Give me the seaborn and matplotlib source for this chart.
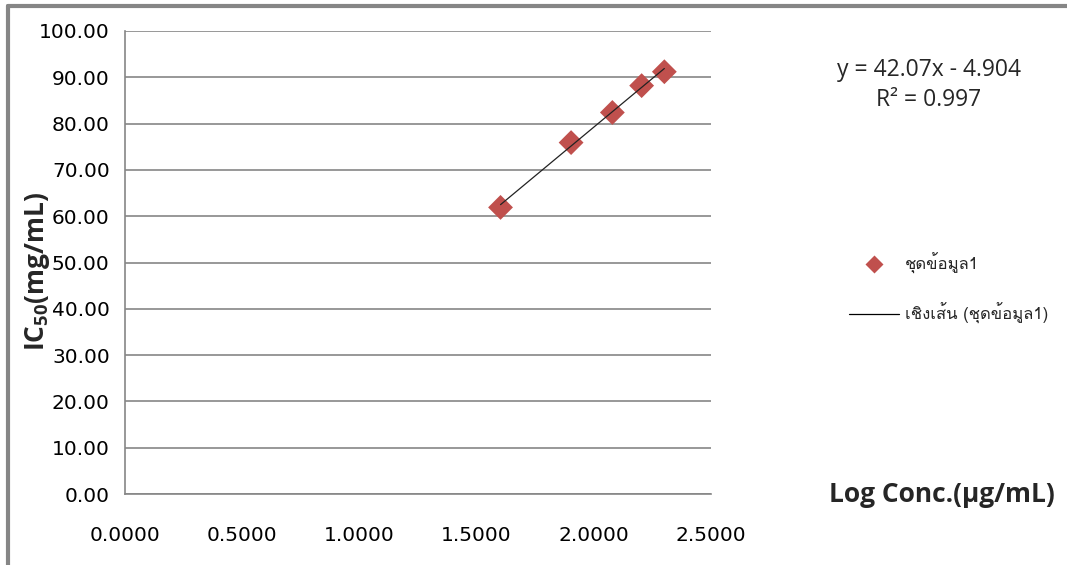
import numpy as np
import pandas as pd
import matplotlib
matplotlib.use("Agg")
import matplotlib.pyplot as plt
from matplotlib import font_manager
from matplotlib.lines import Line2D
import seaborn as sns

# Data: log10 of concentration (µg/mL) and IC50 values (mg/mL)
log_conc = [1.6021, 1.9031, 2.0792, 2.2041, 2.3010]
ic50 = [61.9, 75.9, 82.4, 88.2, 91.2]

# Linear trendline coefficients and fit quality
slope = 42.07
intercept = -4.904
r_squared = 0.997

x_ticks = [0.0, 0.5, 1.0, 1.5, 2.0, 2.5]
y_ticks = [0, 10, 20, 30, 40, 50, 60, 70, 80, 90, 100]

series_label = "ชุดข้อมูล1"
trend_label = "เชิงเส้น (ชุดข้อมูล1)"
x_label = "Log Conc.(µg/mL)"
y_label = "IC$_{50}$(mg/mL)"

sns.set_style("white")
plt.rcParams["font.family"] = ["DejaVu Sans"]
plt.rcParams["mathtext.fontset"] = "custom"
plt.rcParams["mathtext.rm"] = "Open Sans:bold"
plt.rcParams["mathtext.it"] = "Open Sans:bold"
plt.rcParams["mathtext.bf"] = "Open Sans:bold"


def find_thai_font():
    for f in font_manager.fontManager.ttflist:
        try:
            cmap = matplotlib.ft2font.FT2Font(f.fname).get_charmap()
        except Exception:
            continue
        if 0x0E0A in cmap and 0x0E38 in cmap:
            return f.name
    return None


thai = find_thai_font()
thai_family = [thai, "DejaVu Sans"] if thai else ["DejaVu Sans"]

fig = plt.figure(figsize=(10.67, 5.65), dpi=100)
ax = fig.add_axes([125 / 1067, 1 - 494 / 565, (711 - 125) / 1067, (494 - 31) / 565])

df = pd.DataFrame({"x": log_conc, "y": ic50})
sns.scatterplot(data=df, x="x", y="y", marker="D", s=160, color="#C0504D",
                edgecolor="none", ax=ax, zorder=3, legend=False)

trend = pd.DataFrame({"x": [min(log_conc), max(log_conc)]})
trend["y"] = slope * trend["x"] + intercept
sns.lineplot(data=trend, x="x", y="y", color="#222222", linewidth=0.9,
             ax=ax, zorder=4, legend=False)

ax.set_xlim(0, 2.5)
ax.set_ylim(0, 100)
ax.set_xticks(x_ticks)
ax.set_yticks(y_ticks)
ax.set_xticklabels([f"{v:.4f}" for v in x_ticks])
ax.set_yticklabels([f"{v:.2f}" for v in y_ticks])
ax.tick_params(axis="both", direction="out", length=6, width=1.2, color="#868686",
               labelsize=14.5, labelcolor="black")
ax.tick_params(axis="y", pad=5)
ax.tick_params(axis="x", pad=17)
ax.set_xlabel("")
ax.set_ylabel("")
ax.grid(axis="y", color="#868686", linewidth=1.2)
ax.set_axisbelow(True)
for side in ["top", "right"]:
    ax.spines[side].set_visible(False)
for side in ["left", "bottom"]:
    ax.spines[side].set_color("#868686")
    ax.spines[side].set_linewidth(1.2)

# Axis titles
fig.text(942 / 1067, 1 - 495 / 565, x_label, ha="center", va="center",
         fontsize=19, fontweight="bold", family="Open Sans")
fig.text(38 / 1067, 1 - 272 / 565, y_label, ha="center", va="center",
         rotation=90, fontsize=19, fontweight="bold", family="Open Sans")

# Trendline equation
fig.text(929 / 1067, 1 - 70 / 565, f"y = {slope:.2f}x - {abs(intercept):.3f}",
         ha="center", va="center", fontsize=16.5, family="Open Sans")
fig.text(929 / 1067, 1 - 100 / 565, f"R² = {r_squared:.3f}",
         ha="center", va="center", fontsize=16.5, family="Open Sans")

# Legend
handles = [
    Line2D([], [], marker="D", linestyle="none", markersize=9.5,
           markerfacecolor="#C0504D", markeredgecolor="none"),
    Line2D([], [], color="black", linewidth=0.9),
]
leg = fig.legend(handles, [series_label, trend_label], loc="upper left",
                 bbox_to_anchor=(834 / 1067, 1 - 238 / 565), frameon=False,
                 handlelength=3.0, handletextpad=0.35, labelspacing=1.7,
                 prop={"family": thai_family, "size": 12})

# Chart frame
fig.add_artist(Line2D([8 / 1067, 8 / 1067], [0, 1 - 6 / 565],
                      transform=fig.transFigure, color="#868686", linewidth=3))
fig.add_artist(Line2D([8 / 1067, 1], [1 - 6 / 565, 1 - 6 / 565],
                      transform=fig.transFigure, color="#868686", linewidth=3))

fig.savefig("out.png", dpi=100)
